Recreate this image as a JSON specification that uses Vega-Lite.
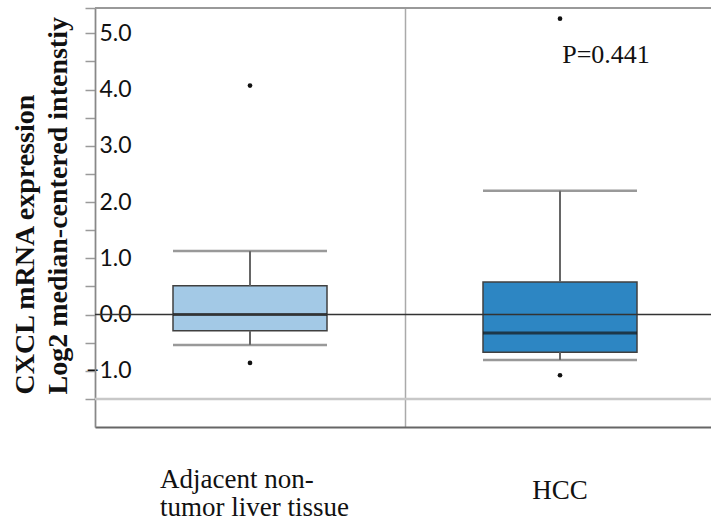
{
  "$schema": "https://vega.github.io/schema/vega-lite/v6.json",
  "width": 616,
  "height": 419,
  "autosize": {"type": "none"},
  "padding": {"left": 95, "top": 8, "right": 0, "bottom": 96},
  "background": "white",
  "config": {"view": {"stroke": null}},
  "datasets": {
    "stats": [
      {"group": "Adjacent non-tumor liver tissue", "lower": -0.54, "q1": -0.29, "median": 0.0, "q3": 0.51, "upper": 1.13},
      {"group": "HCC", "lower": -0.81, "q1": -0.67, "median": -0.33, "q3": 0.58, "upper": 2.2}
    ],
    "outliers": [
      {"group": "Adjacent non-tumor liver tissue", "value": 4.07},
      {"group": "Adjacent non-tumor liver tissue", "value": -0.86},
      {"group": "HCC", "value": 5.26},
      {"group": "HCC", "value": -1.08}
    ],
    "note": [
      {"group": "HCC", "y": 4.62, "text": "P=0.441"}
    ],
    "lines": [
      {"y": -1.5, "kind": "grid"},
      {"y": 5.45, "kind": "frame"},
      {"y": 0, "kind": "zero"}
    ]
  },
  "layer": [
    {
      "data": {"name": "stats"},
      "mark": {"type": "bar", "width": 154, "stroke": "#404040", "strokeWidth": 1.5, "opacity": 1},
      "encoding": {
        "x": {
          "field": "group",
          "type": "nominal",
          "sort": null,
          "scale": {"domain": ["Adjacent non-tumor liver tissue", "HCC"], "range": [0, 620], "paddingInner": 0, "paddingOuter": 0},
          "axis": {
            "title": null,
            "orient": "bottom",
            "domain": true,
            "domainColor": "#666666",
            "domainWidth": 2,
            "ticks": false,
            "tickSize": 0,
            "grid": true,
            "gridColor": "#aaaaaa",
            "gridWidth": 1.5,
            "bandPosition": 0,
            "labelExpr": "datum.value == 'HCC' ? 'HCC' : ['Adjacent non-', 'tumor liver tissue']",
            "labelFont": "Liberation Serif",
            "labelFontSize": 27,
            "labelColor": "#111111",
            "labelLineHeight": 28,
            "labelBaseline": "alphabetic",
            "labelPadding": {"condition": {"test": "datum.value == 'HCC'", "value": 71}, "value": 60},
            "labelAngle": 0,
            "labelAlign": {"condition": {"test": "datum.value == 'HCC'", "value": "center"}, "value": "left"},
            "labelOffset": {"condition": {"test": "datum.value == 'HCC'", "value": 0}, "value": -90},
            "labelOverlap": false,
            "labelLimit": 0
          }
        },
        "y": {
          "field": "q1",
          "type": "quantitative",
          "scale": {"domain": [-2, 5.45], "nice": false, "zero": false},
          "axis": {
            "title": ["CXCL mRNA expression", "Log2 median-centered intenstiy"],
            "titleFont": "Liberation Serif",
            "titleFontWeight": "bold",
            "titleFontSize": 28,
            "titleColor": "#111111",
            "titleAngle": -90,
            "titleAlign": "left",
            "titleBaseline": "middle",
            "titleLineHeight": 33,
            "titleX": -70,
            "titleY": 386,
            "values": [-1.5, -1, -0.5, 0, 0.5, 1, 1.5, 2, 2.5, 3, 3.5, 4, 4.5, 5, 5.45],
            "tickCount": 40,
            "format": ".1f",
            "labelOpacity": {"condition": {"test": "abs(datum.value - round(datum.value)) > 0.01", "value": 0}, "value": 1},
            "labelFont": "Lato",
            "labelFontSize": 23,
            "labelColor": "#111111",
            "labelAlign": "right",
            "labelBaseline": "middle",
            "labelPadding": -46,
            "labelOverlap": false,
            "labelFlush": false,
            "labelBound": false,
            "tickSize": 10,
            "tickColor": "#9a9a9a",
            "tickWidth": 1.5,
            "domainColor": "#888888",
            "domainWidth": 1.5,
            "grid": false
          }
        },
        "y2": {"field": "q3"},
        "color": {
          "field": "group",
          "type": "nominal",
          "scale": {"domain": ["Adjacent non-tumor liver tissue", "HCC"], "range": ["#a3c9e6", "#2d86c3"]},
          "legend": null
        }
      }
    },
    {
      "data": {"name": "lines"},
      "transform": [{"filter": "datum.kind == 'grid'"}],
      "mark": {"type": "rule", "color": "#c8c8c8", "strokeWidth": 2.5},
      "encoding": {"y": {"field": "y", "type": "quantitative"}}
    },
    {
      "data": {"name": "lines"},
      "transform": [{"filter": "datum.kind == 'frame'"}],
      "mark": {"type": "rule", "color": "#999999", "strokeWidth": 2},
      "encoding": {"y": {"field": "y", "type": "quantitative"}}
    },
    {
      "data": {"name": "stats"},
      "mark": {"type": "rule", "color": "#666666", "strokeWidth": 2},
      "encoding": {
        "x": {"field": "group", "type": "nominal"},
        "y": {"field": "lower", "type": "quantitative"},
        "y2": {"field": "q1"}
      }
    },
    {
      "data": {"name": "stats"},
      "mark": {"type": "rule", "color": "#666666", "strokeWidth": 2},
      "encoding": {
        "x": {"field": "group", "type": "nominal"},
        "y": {"field": "q3", "type": "quantitative"},
        "y2": {"field": "upper"}
      }
    },
    {
      "data": {"name": "stats"},
      "mark": {"type": "tick", "color": "#6e6e6e", "size": 154, "thickness": 2.5},
      "encoding": {
        "x": {"field": "group", "type": "nominal"},
        "y": {"field": "lower", "type": "quantitative"}
      }
    },
    {
      "data": {"name": "stats"},
      "mark": {"type": "tick", "color": "#6e6e6e", "size": 154, "thickness": 2.5},
      "encoding": {
        "x": {"field": "group", "type": "nominal"},
        "y": {"field": "upper", "type": "quantitative"}
      }
    },
    {
      "data": {"name": "stats"},
      "mark": {"type": "tick", "color": "#151515", "size": 154, "thickness": 3},
      "encoding": {
        "x": {"field": "group", "type": "nominal"},
        "y": {"field": "median", "type": "quantitative"}
      }
    },
    {
      "data": {"name": "lines"},
      "transform": [{"filter": "datum.kind == 'zero'"}],
      "mark": {"type": "rule", "color": "#333333", "strokeWidth": 1.5},
      "encoding": {"y": {"field": "y", "type": "quantitative"}}
    },
    {
      "data": {"name": "outliers"},
      "mark": {"type": "point", "filled": true, "color": "#111111", "size": 22, "opacity": 1},
      "encoding": {
        "x": {"field": "group", "type": "nominal"},
        "y": {"field": "value", "type": "quantitative"}
      }
    },
    {
      "data": {"name": "note"},
      "mark": {"type": "text", "font": "Liberation Serif", "fontSize": 26, "color": "#111111", "align": "center", "baseline": "middle", "dx": 46},
      "encoding": {
        "x": {"field": "group", "type": "nominal"},
        "y": {"field": "y", "type": "quantitative"},
        "text": {"field": "text"}
      }
    }
  ]
}
